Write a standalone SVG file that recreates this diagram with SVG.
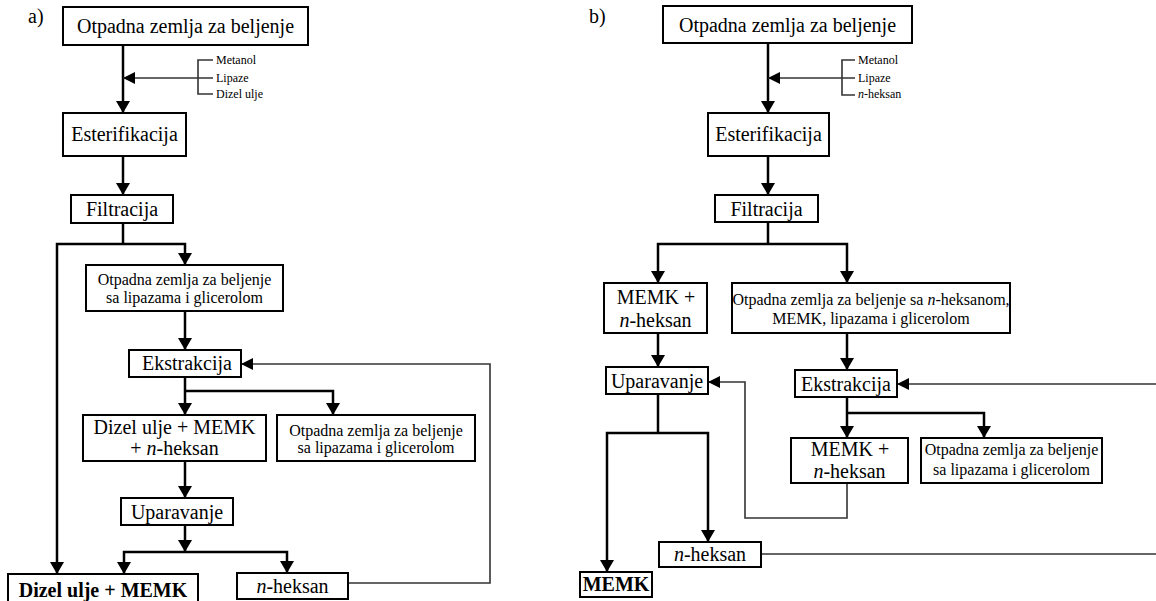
<svg xmlns="http://www.w3.org/2000/svg" width="1156" height="601" viewBox="0 0 1156 601">
<defs>
<marker id="ar" markerUnits="userSpaceOnUse" markerWidth="12" markerHeight="14" refX="12" refY="7" orient="auto" viewBox="0 0 12 14">
<path d="M0,0 L12,7 L0,14 z" fill="#000"/>
</marker>
<marker id="ars" markerUnits="userSpaceOnUse" markerWidth="12" markerHeight="12" refX="12" refY="6" orient="auto" viewBox="0 0 12 12">
<path d="M0,0 L12,6 L0,12 z" fill="#000"/>
</marker>
</defs>
<style>
.t20{font-size:20px;text-anchor:middle}
.t16{font-size:16px;text-anchor:middle}
.t12{font-size:12px}
.b{font-weight:bold}
rect{fill:#fff;stroke:#000;stroke-width:2}
.c{fill:none;stroke:#000;stroke-width:2.5}
.ca{fill:none;stroke:#000;stroke-width:2.5;marker-end:url(#ar)}
.f{fill:none;stroke:#333;stroke-width:1.6}
.fa{fill:none;stroke:#333;stroke-width:1.6;marker-end:url(#ars)}
</style>
<rect width="1156" height="601" style="fill:#fff;stroke:none"/>

<g id="connectors">
<path class="ca" d="M123,45 V113"/>
<path class="f" d="M213,60 H198 V94 H213 M198,78 H213"/>
<path class="fa" d="M198,78 H123"/>
<path class="ca" d="M123,156 V195"/>
<path class="c" d="M123,223 V244"/>
<path class="ca" d="M123,244 H57 V574"/>
<path class="ca" d="M123,244 H185 V265"/>
<path class="ca" d="M185,311 V350"/>
<path class="ca" d="M185,377 V415"/>
<path class="ca" d="M185,391 H333 V415"/>
<path class="ca" d="M185,461 V498"/>
<path class="ca" d="M185,525 V552"/>
<path class="ca" d="M185,552 H124 V574"/>
<path class="ca" d="M185,552 H287 V573"/>
<path class="fa" d="M348,583 H490 V364 H241"/>
<path class="ca" d="M768,43 V113"/>
<path class="f" d="M855,60 H842 V95 H855 M842,78 H855"/>
<path class="fa" d="M842,78 H768"/>
<path class="ca" d="M768,156 V195"/>
<path class="c" d="M768,222 V244"/>
<path class="ca" d="M768,244 H658 V283"/>
<path class="ca" d="M768,244 H847 V283"/>
<path class="ca" d="M658,333 V367"/>
<path class="ca" d="M847,333 V370"/>
<path class="ca" d="M847,397 V438"/>
<path class="ca" d="M847,413 H984 V438"/>
<path class="c" d="M658,394 V433"/>
<path class="ca" d="M658,433 H607 V572"/>
<path class="ca" d="M658,433 H708 V542"/>
<path class="fa" d="M847,483 V518 H745 V382 H708"/>
<path class="fa" d="M761,554 H1162 V384 H897"/>
</g>

<g font-family="'Liberation Serif', 'DejaVu Serif', serif" fill="#000">
<g id="label-a"><text x="28" y="23" font-size="20">a)</text></g>
<g id="label-b"><text x="589" y="23" font-size="20">b)</text></g>

<g id="a-inputs">
<text class="t12" x="216" y="64">Metanol</text>
<text class="t12" x="216" y="82">Lipaze</text>
<text class="t12" x="216" y="98">Dizel ulje</text>
</g>
<g id="b-inputs">
<text class="t12" x="858" y="64">Metanol</text>
<text class="t12" x="858" y="82">Lipaze</text>
<text class="t12" x="858" y="98"><tspan font-style="italic">n</tspan>-heksan</text>
</g>

<g id="a-otpadna"><rect x="63" y="7" width="245" height="38"/><text class="t20" x="185.5" y="33">Otpadna zemlja za beljenje</text></g>
<g id="a-esterifikacija"><rect x="63" y="113" width="123" height="43"/><text class="t20" x="124.5" y="141">Esterifikacija</text></g>
<g id="a-filtracija"><rect x="71" y="195" width="102" height="28"/><text class="t20" x="122" y="216">Filtracija</text></g>
<g id="a-otpadna2"><rect x="86" y="265" width="197" height="46"/><text class="t16" x="184.5" y="285">Otpadna zemlja za beljenje</text><text class="t16" x="184.5" y="303">sa lipazama i glicerolom</text></g>
<g id="a-ekstrakcija"><rect x="129" y="350" width="112" height="27"/><text class="t20" x="187" y="370">Ekstrakcija</text></g>
<g id="a-dizel-memk-heksan"><rect x="83" y="415" width="183" height="46"/><text class="t20" x="174.5" y="434">Dizel ulje + MEMK</text><text class="t20" x="174.5" y="455">+ <tspan font-style="italic">n</tspan>-heksan</text></g>
<g id="a-otpadna3"><rect x="277" y="415" width="198" height="46"/><text class="t16" x="376" y="436">Otpadna zemlja za beljenje</text><text class="t16" x="376" y="453">sa lipazama i glicerolom</text></g>
<g id="a-uparavanje"><rect x="121" y="498" width="112" height="27"/><text class="t20" x="177" y="519">Uparavanje</text></g>
<g id="a-dizel-memk"><rect x="8" y="574" width="190" height="30"/><text class="t20 b" x="103" y="597">Dizel ulje + MEMK</text></g>
<g id="a-heksan"><rect x="237" y="573" width="111" height="26"/><text class="t20" x="292.5" y="593"><tspan font-style="italic">n</tspan>-heksan</text></g>

<g id="b-otpadna"><rect x="663" y="6" width="249" height="37"/><text class="t20" x="787.5" y="32">Otpadna zemlja za beljenje</text></g>
<g id="b-esterifikacija"><rect x="708" y="113" width="121" height="43"/><text class="t20" x="768.5" y="141">Esterifikacija</text></g>
<g id="b-filtracija"><rect x="715" y="195" width="103" height="27"/><text class="t20" x="766.5" y="216">Filtracija</text></g>
<g id="b-memk-heksan"><rect x="604" y="283" width="103" height="50"/><text class="t20" x="656" y="304">MEMK +</text><text class="t20" x="655.5" y="327"><tspan font-style="italic">n</tspan>-heksan</text></g>
<g id="b-otpadna2"><rect x="732" y="283" width="278" height="50"/><text class="t16" x="871" y="305">Otpadna zemlja za beljenje sa <tspan font-style="italic">n</tspan>-heksanom,</text><text class="t16" x="871" y="324">MEMK, lipazama i glicerolom</text></g>
<g id="b-uparavanje"><rect x="606" y="367" width="102" height="27"/><text class="t20" x="657" y="388">Uparavanje</text></g>
<g id="b-ekstrakcija"><rect x="795" y="370" width="102" height="27"/><text class="t20" x="846" y="391">Ekstrakcija</text></g>
<g id="b-memk-heksan2"><rect x="791" y="438" width="117" height="45"/><text class="t20" x="850" y="456">MEMK +</text><text class="t20" x="849.5" y="478"><tspan font-style="italic">n</tspan>-heksan</text></g>
<g id="b-otpadna3"><rect x="921" y="438" width="181" height="45"/><text class="t16" x="1011.5" y="455">Otpadna zemlja za beljenje</text><text class="t16" x="1011.5" y="475">sa lipazama i glicerolom</text></g>
<g id="b-heksan"><rect x="659" y="542" width="102" height="25"/><text class="t20" x="710" y="561"><tspan font-style="italic">n</tspan>-heksan</text></g>
<g id="b-memk"><rect x="580" y="572" width="72" height="25"/><text class="t20 b" x="616" y="591">MEMK</text></g>
</g>
</svg>
